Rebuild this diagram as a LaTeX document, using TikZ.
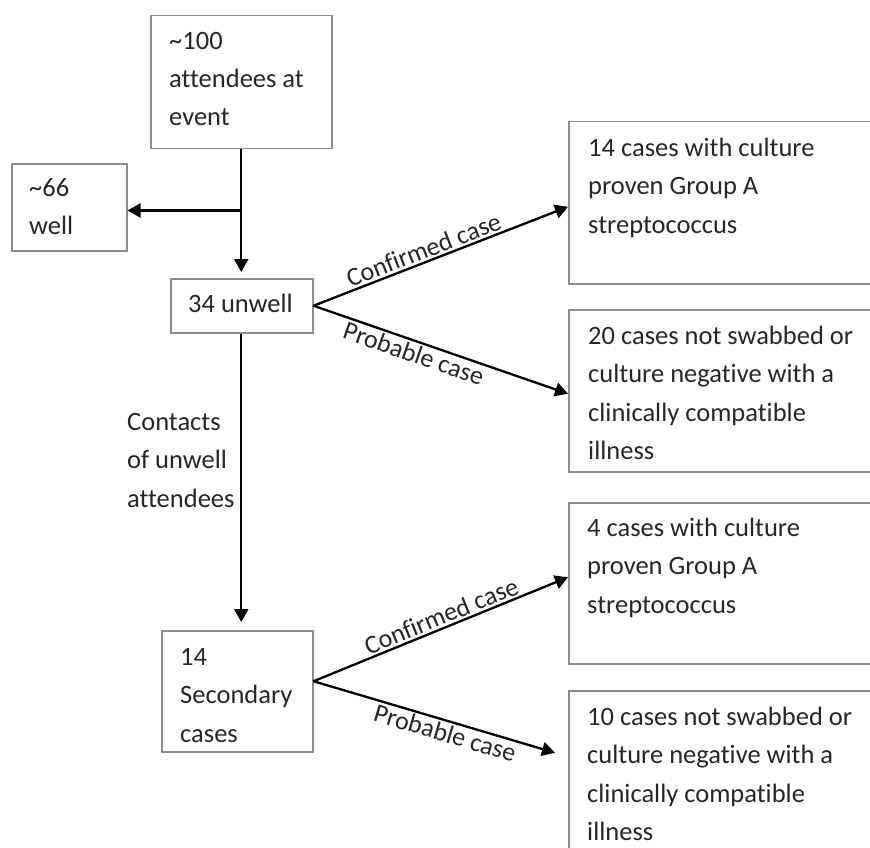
\documentclass[tikz,border=0pt]{standalone}
\usepackage{fontspec}
\setmainfont{Carlito}[Ligatures=NoCommon]
\usetikzlibrary{arrows.meta,calc}
\definecolor{boxgray}{HTML}{8C8C8C}
\definecolor{textcol}{HTML}{262626}
\begin{document}
\begin{tikzpicture}[x=1pt,y=-1pt,
  box/.style={draw=boxgray, line width=1.5pt, inner sep=0pt, anchor=north west},
  txt/.style={font=\fontsize{26.5}{38.5}\selectfont, text=textcol, align=left, inner sep=0pt, anchor=base west},
  arr/.style={line width=2.3pt, draw=black, -{Triangle[length=13pt,width=14pt]}},
  lab/.style={font=\fontsize{26}{28}\selectfont, text=textcol, sloped, inner sep=2pt}]
\useasboundingbox (0,0) rectangle (870,848);
% boxes
\node[box, minimum width=181pt, minimum height=133pt] (top) at (150,15) {};
\node[box, minimum width=115pt, minimum height=87pt] (well) at (11,163) {};
\node[box, minimum width=142pt, minimum height=54pt] (unwell) at (170,278) {};
\node[box, minimum width=151pt, minimum height=121pt] (sec) at (161,630) {};
\node[box, minimum width=320pt, minimum height=162pt] (r1) at (568,121) {};
\node[box, minimum width=320pt, minimum height=162pt] (r2) at (568,309) {};
\node[box, minimum width=320pt, minimum height=161pt] (r3) at (568,502) {};
\node[box, minimum width=320pt, minimum height=170pt] (r4) at (568,690) {};
% texts (anchor = baseline of last line)
\node[txt] (ttop) at (169,126) {\textasciitilde100\\attendees at\\event};
\node[txt] (twell) at (29,234.5) {\textasciitilde66\\well};
\node[txt] (tunwell) at (188,312) {34 unwell};
\node[txt] (tsec) at (180,742) {14\\Secondary\\cases};
\node[txt] (tr1) at (588,233) {14 cases with culture\\proven Group A\\streptococcus};
\node[txt] (tr2) at (588,459.5) {20 cases not swabbed or\\culture negative with a\\clinically compatible\\illness};
\node[txt] (tr3) at (587,613) {4 cases with culture\\proven Group A\\streptococcus};
\node[txt] (tr4) at (587,840.5) {10 cases not swabbed or\\culture negative with a\\clinically compatible\\illness};
\node[txt] (tcont) at (127,507) {Contacts\\of unwell\\attendees};
% connector points
\path (top.south) ++(0,61) coordinate (j);
\path (sec.east) ++(0,-10) coordinate (sv);
\path (r1.west) ++(0,4) coordinate (r1in);
\path (r2.west) ++(0,3) coordinate (r2in);
\path (r3.west) ++(0,-6) coordinate (r3in);
\path (r4.west) ++(-13,-23) coordinate (r4in);
% connectors
\draw[arr, shorten >=6pt] (top.south) -- (top.south |- unwell.north);
\draw[arr] (j) -- (j -| well.east);
\draw[arr, shorten >=8pt] (top.south |- unwell.south) -- (top.south |- sec.north);
\draw[arr] (unwell.east) -- node[lab, above, pos=0.45] {Confirmed case} (r1in);
\draw[arr] (unwell.east) -- node[lab, below, pos=0.41] {Probable case} (r2in);
\draw[arr] (sv) -- node[lab, above, pos=0.52] {Confirmed case} (r3in);
\draw[arr] (sv) -- node[lab, below, pos=0.56] {Probable case} (r4in);
\end{tikzpicture}
\end{document}
